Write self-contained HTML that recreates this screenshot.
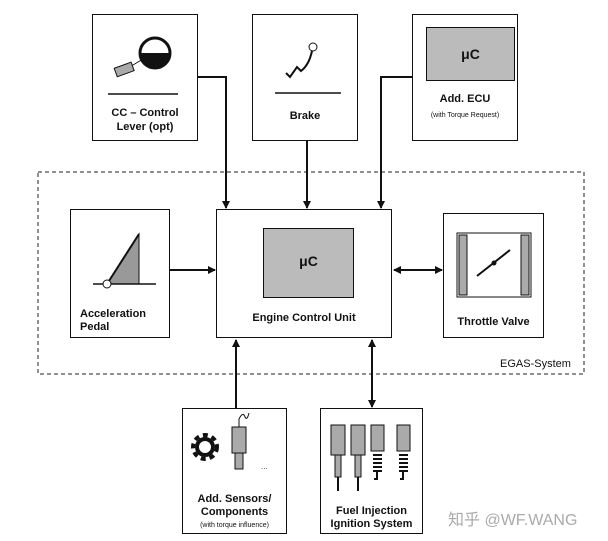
<!DOCTYPE html><html><head><style>
body{margin:0;width:608px;height:541px;background:#fff;position:relative;font-family:"Liberation Sans",Arial,sans-serif;overflow:hidden}
.b{position:absolute;border:1.5px solid #111;box-sizing:border-box;background:#fff}
.t{position:absolute;font-weight:bold;font-size:11px;text-align:center;line-height:13px;color:#111}
</style></head><body>
<svg width="608" height="541" style="position:absolute;left:0;top:0">
<defs><marker id="a" markerWidth="8" markerHeight="8" refX="7" refY="4" orient="auto" markerUnits="userSpaceOnUse"><path d="M0,0 L8,4 L0,8z" fill="#111"/></marker>
<marker id="s" markerWidth="8" markerHeight="8" refX="1" refY="4" orient="auto" markerUnits="userSpaceOnUse"><path d="M8,0 L0,4 L8,8z" fill="#111"/></marker></defs>
<rect x="38" y="172" width="546" height="202" fill="none" stroke="#222" stroke-dasharray="4,3"/>
<g stroke="#111" stroke-width="2" fill="none">
<path d="M198,77 H226 V208" marker-end="url(#a)"/>
<path d="M307,141 V208" marker-end="url(#a)"/>
<path d="M412,77 H381 V208" marker-end="url(#a)"/>
<path d="M170,270 H215" marker-end="url(#a)"/>
<path d="M394,270 H442" marker-start="url(#s)" marker-end="url(#a)"/>
<path d="M236,408 V340" marker-end="url(#a)"/>
<path d="M372,340 V407" marker-start="url(#s)" marker-end="url(#a)"/>
</g>
</svg>
<div class="b" style="left:92px;top:14px;width:106px;height:127px">
<svg width="104" height="80" style="position:absolute;left:0;top:0"><circle cx="62" cy="38" r="15" fill="#fff" stroke="#111" stroke-width="3"/><path d="M47,38 A15,15 0 0 0 77,38z" fill="#111"/><line x1="35" y1="53" x2="50" y2="44" stroke="#111"/><rect x="22" y="50" width="18" height="9" fill="#aaa" stroke="#111" transform="rotate(-20 31 54)"/><line x1="15" y1="79" x2="85" y2="79" stroke="#111" stroke-width="1.5"/></svg>
<div class="t" style="left:0;width:104px;top:91px;line-height:14px">CC – Control<br>Lever (opt)</div></div>
<div class="b" style="left:252px;top:14px;width:106px;height:127px">
<svg width="104" height="80" style="position:absolute;left:0;top:0"><circle cx="60" cy="32" r="4" fill="#fff" stroke="#111"/><path d="M59,36 Q56,50 48,56 L44,52 L37,62 L33,58" fill="none" stroke="#111" stroke-width="2"/><line x1="22" y1="78" x2="88" y2="78" stroke="#111" stroke-width="1.5"/></svg>
<div class="t" style="left:0;width:104px;top:95px">Brake</div></div>
<div class="b" style="left:412px;top:14px;width:106px;height:127px">
<div class="b" style="left:13px;top:12px;width:89px;height:54px;background:#bbb;border-width:1px"><div class="t" style="left:0;width:87px;top:20px;font-size:14px">μC</div></div>
<div class="t" style="left:0;width:104px;top:78px">Add. ECU</div><div class="t" style="left:0;width:104px;top:94px;font-size:7px;font-weight:normal">(with Torque Request)</div></div>
<div class="b" style="left:70px;top:209px;width:100px;height:129px">
<svg width="98" height="90" style="position:absolute;left:0;top:0"><path d="M36,74 L68,24 L68,74z" fill="#999" stroke="#111"/><line x1="68" y1="24" x2="36" y2="74" stroke="#111" stroke-width="2"/><line x1="22" y1="74" x2="85" y2="74" stroke="#111" stroke-width="1.5"/><circle cx="36" cy="74" r="4" fill="#fff" stroke="#111"/></svg>
<div class="t" style="left:9px;top:98px;text-align:left">Acceleration<br>Pedal</div></div>
<div class="b" style="left:216px;top:209px;width:176px;height:129px">
<div class="b" style="left:46px;top:18px;width:91px;height:70px;background:#bbb;border-width:1px"><div class="t" style="left:0;width:89px;top:26px;font-size:14px">μC</div></div>
<div class="t" style="left:0;width:174px;top:102px">Engine Control Unit</div></div>
<div class="b" style="left:443px;top:213px;width:101px;height:125px">
<svg width="99" height="90" style="position:absolute;left:0;top:0"><rect x="13" y="19" width="74" height="64" fill="#fff" stroke="#111"/><rect x="15" y="21" width="8" height="60" fill="#aaa" stroke="#111"/><rect x="77" y="21" width="8" height="60" fill="#aaa" stroke="#111"/><line x1="33" y1="62" x2="66" y2="36" stroke="#111" stroke-width="2"/><circle cx="50" cy="49" r="2.5" fill="#111"/></svg>
<div class="t" style="left:0;width:99px;top:102px">Throttle Valve</div></div>
<div class="t" style="left:500px;top:358px;font-weight:normal">EGAS-System</div>
<div class="b" style="left:182px;top:408px;width:105px;height:126px">
<svg width="103" height="80" style="position:absolute;left:0;top:0"><circle cx="22" cy="38" r="12" fill="none" stroke="#111" stroke-width="4" stroke-dasharray="5,4"/><circle cx="22" cy="38" r="8" fill="none" stroke="#111" stroke-width="4"/><rect x="49" y="18" width="14" height="26" fill="#aaa" stroke="#111"/><rect x="52" y="44" width="8" height="16" fill="#aaa" stroke="#111"/><path d="M56,18 V10 Q60,2 62,8 Q64,12 66,4" fill="none" stroke="#111"/><text x="78" y="60" font-size="8" fill="#333">...</text></svg>
<div class="t" style="left:0;width:103px;top:84px">Add. Sensors/<br>Components</div><div class="t" style="left:0;width:103px;top:110px;font-size:7px;font-weight:normal">(with torque influence)</div></div>
<div class="b" style="left:320px;top:408px;width:103px;height:126px">
<svg width="101" height="90" style="position:absolute;left:0;top:0"><g fill="#aaa" stroke="#111"><rect x="10" y="16" width="14" height="30"/><rect x="30" y="16" width="14" height="30"/><rect x="50" y="16" width="13" height="26"/><rect x="76" y="16" width="13" height="26"/><rect x="14" y="46" width="6" height="22"/><rect x="34" y="46" width="6" height="22"/></g><g stroke="#111" stroke-width="2"><line x1="17" y1="68" x2="17" y2="82"/><line x1="37" y1="68" x2="37" y2="82"/></g><g stroke="#111" stroke-width="2"><path d="M52,46h9M52,50h9M52,54h9M52,58h9M52,62h9M78,46h9M78,50h9M78,54h9M78,58h9M78,62h9"/><path d="M56,62 v8 h-3 M82,62 v8 h-3" fill="none"/></g></svg>
<div class="t" style="left:0;width:101px;top:96px">Fuel Injection<br>Ignition System</div></div>
<div style="position:absolute;left:448px;top:506px;font-size:16px;color:#aaa;font-family:'Liberation Sans','Noto Sans CJK SC',sans-serif">知乎 @WF.WANG</div>
</body></html>
